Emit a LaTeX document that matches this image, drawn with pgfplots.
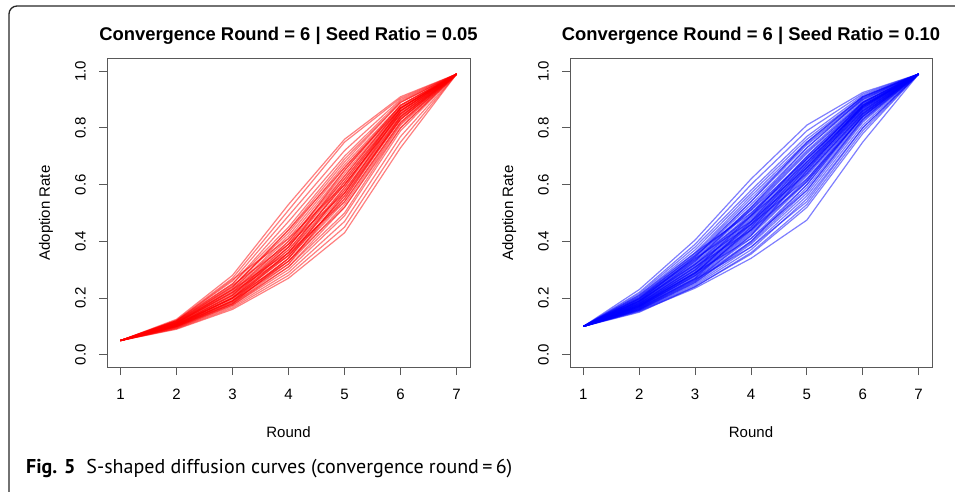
\documentclass[border=0pt]{standalone}
\usepackage{fontspec}
\setmainfont{Liberation Sans}
\newfontfamily\capfont{PT Sans}
\usepackage{pgfplots}
\pgfplotsset{compat=1.18}

% one curve: values at rounds 2..6 (round 1 and 7 fixed per panel)
\newcommand\rc[5]{\addplot[redl] coordinates {(1,0.05)(2,#1)(3,#2)(4,#3)(5,#4)(6,#5)(7,0.99)};}
\newcommand\bc[5]{\addplot[bluel] coordinates {(1,0.10)(2,#1)(3,#2)(4,#3)(5,#4)(6,#5)(7,0.99)};}

\pgfplotsset{
  redl/.style={color=red, opacity=0.5, line width=1.2pt, mark=none},
  bluel/.style={color=blue, opacity=0.5, line width=1.2pt, mark=none},
  rplot/.style={
    scale only axis, width=363pt, height=308pt,
    xmin=0.76, xmax=7.24, ymin=-0.0432, ymax=1.0432,
    xtick={1,2,3,4,5,6,7}, ytick={0,0.2,0.4,0.6,0.8,1},
    tick align=outside, xtick pos=left, ytick pos=left,
    major tick length=8pt,
    axis line style={black!65, line width=1pt},
    every tick/.style={black!65, line width=1pt},
    /pgf/number format/assume math mode=true,
    tick label style={font=\fontsize{15}{18}\selectfont, inner sep=0pt},
    xticklabel shift=13.5pt, yticklabel shift=13pt,
    xticklabel style={anchor=north},
    yticklabel style={rotate=90, anchor=south, /pgf/number format/.cd, fixed, fixed zerofill, precision=1},
    title style={at={(axis description cs:0.5,1)}, anchor=base, yshift=12.5pt, font=\bfseries\fontsize{18.4}{21}\selectfont},
    xlabel style={at={(axis description cs:0.5,0)}, anchor=base, yshift=-70.3pt, font=\fontsize{15}{18}\selectfont},
    ylabel style={at={([xshift=-57pt]axis description cs:0,0.5)}, anchor=base, font=\fontsize{15}{18}\selectfont},
    xlabel={Round}, ylabel={Adoption Rate},
  }
}

\begin{document}
\begin{tikzpicture}
\useasboundingbox (0,0) rectangle (955pt,491pt);
\draw[black!85, line width=1.3pt, rounded corners=8pt] (9pt,-40pt) -- (9pt,485pt) -- (1000pt,485pt);

\begin{axis}[rplot, at={(107pt,124pt)}, anchor=south west,
  title={Convergence Round = 6 | Seed Ratio = 0.05}]
\rc{0.125}{0.28}{0.53}{0.76}{0.91}
\rc{0.122}{0.27}{0.51}{0.75}{0.905}
\rc{0.12}{0.26}{0.49}{0.72}{0.90}
\rc{0.12}{0.25}{0.47}{0.70}{0.895}
\rc{0.118}{0.25}{0.45}{0.69}{0.89}
\rc{0.118}{0.24}{0.44}{0.68}{0.89}
\rc{0.115}{0.24}{0.43}{0.67}{0.88}
\rc{0.115}{0.23}{0.42}{0.66}{0.88}
\rc{0.113}{0.23}{0.41}{0.65}{0.875}
\rc{0.113}{0.225}{0.40}{0.64}{0.87}
\rc{0.112}{0.22}{0.40}{0.63}{0.87}
\rc{0.11}{0.22}{0.39}{0.62}{0.865}
\rc{0.11}{0.215}{0.38}{0.62}{0.86}
\rc{0.108}{0.21}{0.38}{0.61}{0.86}
\rc{0.108}{0.21}{0.37}{0.60}{0.855}
\rc{0.107}{0.205}{0.37}{0.60}{0.85}
\rc{0.106}{0.20}{0.36}{0.59}{0.85}
\rc{0.105}{0.20}{0.36}{0.58}{0.845}
\rc{0.105}{0.20}{0.35}{0.58}{0.84}
\rc{0.104}{0.195}{0.35}{0.57}{0.84}
\rc{0.103}{0.19}{0.34}{0.56}{0.835}
\rc{0.102}{0.19}{0.34}{0.56}{0.83}
\rc{0.101}{0.185}{0.33}{0.55}{0.83}
\rc{0.10}{0.185}{0.33}{0.54}{0.82}
\rc{0.10}{0.18}{0.32}{0.53}{0.815}
\rc{0.098}{0.18}{0.31}{0.52}{0.81}
\rc{0.097}{0.175}{0.31}{0.50}{0.80}
\rc{0.095}{0.175}{0.30}{0.49}{0.79}
\rc{0.094}{0.17}{0.29}{0.47}{0.77}
\rc{0.092}{0.165}{0.28}{0.45}{0.75}
\rc{0.09}{0.16}{0.27}{0.43}{0.73}
\rc{0.12}{0.265}{0.41}{0.60}{0.85}
\rc{0.116}{0.245}{0.39}{0.57}{0.83}
\rc{0.11}{0.23}{0.36}{0.54}{0.82}
\rc{0.106}{0.21}{0.39}{0.65}{0.88}
\rc{0.103}{0.20}{0.38}{0.63}{0.87}
\rc{0.10}{0.19}{0.36}{0.61}{0.86}
\rc{0.112}{0.22}{0.35}{0.55}{0.84}
\rc{0.108}{0.20}{0.33}{0.52}{0.80}
\rc{0.104}{0.19}{0.32}{0.57}{0.86}
\rc{0.099}{0.18}{0.34}{0.59}{0.87}
\rc{0.114}{0.235}{0.44}{0.66}{0.87}
\end{axis}

\begin{axis}[rplot, at={(570pt,124pt)}, anchor=south west, width=362pt,
  title={Convergence Round = 6 | Seed Ratio = 0.10}]
\bc{0.23}{0.405}{0.62}{0.81}{0.925}
\bc{0.22}{0.39}{0.60}{0.79}{0.92}
\bc{0.215}{0.38}{0.58}{0.77}{0.915}
\bc{0.21}{0.37}{0.57}{0.76}{0.91}
\bc{0.205}{0.36}{0.56}{0.75}{0.91}
\bc{0.20}{0.355}{0.55}{0.745}{0.905}
\bc{0.20}{0.35}{0.54}{0.74}{0.90}
\bc{0.197}{0.345}{0.53}{0.73}{0.90}
\bc{0.195}{0.34}{0.52}{0.72}{0.895}
\bc{0.193}{0.335}{0.515}{0.715}{0.89}
\bc{0.19}{0.33}{0.51}{0.71}{0.89}
\bc{0.19}{0.325}{0.50}{0.70}{0.885}
\bc{0.188}{0.32}{0.495}{0.695}{0.88}
\bc{0.186}{0.318}{0.49}{0.69}{0.88}
\bc{0.185}{0.315}{0.485}{0.68}{0.875}
\bc{0.183}{0.31}{0.48}{0.675}{0.875}
\bc{0.182}{0.308}{0.475}{0.67}{0.87}
\bc{0.18}{0.305}{0.47}{0.665}{0.87}
\bc{0.18}{0.30}{0.465}{0.66}{0.865}
\bc{0.178}{0.298}{0.46}{0.655}{0.865}
\bc{0.177}{0.295}{0.455}{0.65}{0.86}
\bc{0.175}{0.29}{0.45}{0.645}{0.86}
\bc{0.174}{0.288}{0.445}{0.64}{0.855}
\bc{0.172}{0.285}{0.44}{0.635}{0.855}
\bc{0.171}{0.28}{0.435}{0.63}{0.85}
\bc{0.17}{0.278}{0.43}{0.62}{0.85}
\bc{0.168}{0.275}{0.425}{0.615}{0.845}
\bc{0.167}{0.27}{0.42}{0.61}{0.84}
\bc{0.165}{0.268}{0.41}{0.60}{0.835}
\bc{0.164}{0.265}{0.40}{0.59}{0.83}
\bc{0.162}{0.26}{0.395}{0.58}{0.825}
\bc{0.16}{0.255}{0.39}{0.57}{0.82}
\bc{0.158}{0.25}{0.38}{0.56}{0.81}
\bc{0.156}{0.245}{0.37}{0.55}{0.80}
\bc{0.155}{0.24}{0.36}{0.53}{0.79}
\bc{0.153}{0.235}{0.34}{0.475}{0.75}
\bc{0.21}{0.36}{0.50}{0.68}{0.87}
\bc{0.20}{0.34}{0.47}{0.64}{0.85}
\bc{0.19}{0.32}{0.46}{0.62}{0.84}
\bc{0.175}{0.30}{0.49}{0.70}{0.89}
\bc{0.17}{0.285}{0.47}{0.69}{0.885}
\bc{0.165}{0.27}{0.45}{0.67}{0.88}
\bc{0.16}{0.26}{0.42}{0.65}{0.875}
\bc{0.185}{0.33}{0.52}{0.73}{0.905}
\bc{0.18}{0.31}{0.44}{0.61}{0.84}
\bc{0.175}{0.29}{0.41}{0.58}{0.83}
\bc{0.196}{0.335}{0.49}{0.66}{0.86}
\bc{0.168}{0.28}{0.44}{0.66}{0.88}
\bc{0.158}{0.255}{0.40}{0.60}{0.845}
\bc{0.162}{0.265}{0.38}{0.54}{0.80}
\bc{0.19}{0.345}{0.54}{0.75}{0.91}
\bc{0.172}{0.29}{0.46}{0.68}{0.89}
\bc{0.15}{0.24}{0.355}{0.52}{0.78}
\bc{0.205}{0.35}{0.51}{0.69}{0.875}
\end{axis}

\node[anchor=base west, inner sep=0pt, font=\capfont\fontsize{20}{23}\selectfont] at (26pt,17.7pt)
  {\textbf{Fig. 5}\hspace{0.55em}S-shaped diffusion curves (convergence round\,=\,6)};
\end{tikzpicture}
\end{document}
